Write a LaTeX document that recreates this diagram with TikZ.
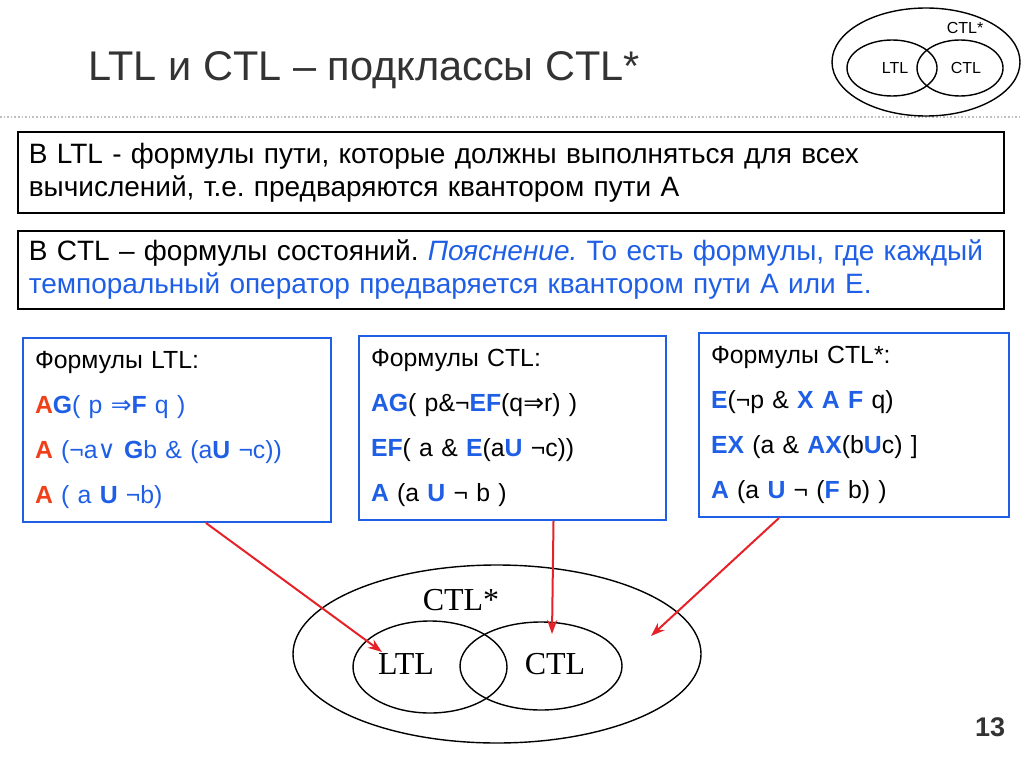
\documentclass[tikz,border=0pt]{standalone}
\usepackage{fontspec}
\setmainfont{Liberation Sans}
\newfontfamily\seriffam{Liberation Serif}
\newfontfamily\symfam{DejaVu Sans}
\usetikzlibrary{arrows.meta, positioning}
\definecolor{slblue}{HTML}{1F5FE6}
\definecolor{slred}{HTML}{F0401A}
\definecolor{arrred}{HTML}{E62228}
\newcommand{\impl}{{\symfam ⇒}}
\newcommand{\orr}{{\symfam ∨}}
\newcommand{\op}[1]{\textbf{\textcolor{slblue}{#1}}}
\newcommand{\qa}[1]{\textbf{\textcolor{slred}{#1}}}
\frenchspacing

\begin{document}
\begin{tikzpicture}[x=1pt, y=-1pt,
    txtbox/.style={draw, line width=1.6pt, anchor=north west, align=left,
                   text width=964pt, inner xsep=11pt, minimum height=#1,
                   font=\fontsize{28}{33}\selectfont},
    formbox/.style={draw=slblue, line width=2pt, anchor=north west, align=left,
                    text width=#1, inner xsep=12pt, minimum height=184pt,
                    font=\fontsize{24.8}{45}\selectfont},
    venn/.style={line width=1.4pt},
    conn/.style={-{Stealth[length=14pt, width=10pt]}, line width=2pt, arrred},
]
    \useasboundingbox (0,0) rectangle (1024,767);

    % Title
    \node[anchor=west, font=\fontsize{41.5}{44}\selectfont, text=black!80] (title) at (85,70)
        {LTL и CTL – подклассы CTL*};
    \draw[gray!50, dotted, line width=1.6pt] (0,117) -- (1022,117);

    % Small Venn diagram
    \draw[venn] (926,62) ellipse [x radius=94, y radius=54];
    \draw[venn] (892,68) ellipse [x radius=45, y radius=28];
    \draw[venn] (960,68) ellipse [x radius=43, y radius=28];
    \node[font=\fontsize{16}{16}\selectfont] (sstar) at (965,28) {CTL*};
    \node[font=\fontsize{16}{16}\selectfont] (sltl) at (895,68) {LTL};
    \node[font=\fontsize{16}{16}\selectfont] (sctl) at (966,68) {CTL};

    % Text boxes
    \node[txtbox=81pt] (ltlbox) at (17,131)
        {В LTL - формулы пути, которые должны выполняться для всех\\
         вычислений, т.е. предваряются квантором пути А};
    \node[txtbox=78pt] (ctlbox) at (17,230)
        {В CTL – формулы состояний. \textcolor{slblue}{\itshape Пояснение.}
         \textcolor{slblue}{То есть формулы, где каждый}\\
         \textcolor{slblue}{темпоральный оператор предваряется квантором пути А или Е.}};

    % Formula boxes
    \node[formbox=284pt] (ltlf) at (22,337)
        {Формулы LTL:\\
         \color{slblue}\qa{A}\op{G}( p \impl\op{F} q )\\
         \qa{A} (¬a\orr\ \op{G}b \& (a\op{U} ¬c))\\
         \qa{A} ( a \op{U} ¬b)};
    \node[formbox=283pt] (ctlf) at (358,335)
        {Формулы CTL:\\
         \op{AG}( p\&¬\op{EF}(q\impl r) )\\
         \op{EF}( a \& \op{E}(a\op{U} ¬c))\\
         \op{A} (a \op{U} ¬ b )};
    \node[formbox=286pt] (starf) at (698,332)
        {Формулы CTL*:\\
         \op{E}(¬p \& \op{X A F} q)\\
         \op{EX} (a \& \op{AX}(b\op{U}c) ]\\
         \op{A} (a \op{U} ¬ (\op{F} b) )};

    % Big Venn diagram
    \draw[venn] (497,654) ellipse [x radius=204, y radius=89];
    \draw[venn] (430,667) ellipse [x radius=77, y radius=46];
    \draw[venn] (541,666) ellipse [x radius=81, y radius=44];
    \node[font=\seriffam\fontsize{32}{32}\selectfont] (bstar) at (461,600) {CTL*};
    \node[font=\seriffam\fontsize{32}{32}\selectfont] (bltl) at (406,664) {LTL};
    \node[font=\seriffam\fontsize{32}{32}\selectfont] (bctl) at (555,664) {CTL};
    \coordinate (ltlend) at (382,652);
    \coordinate (ctlend) at (552,634);
    \coordinate (starend) at (651,636);

    % Arrows
    \draw[conn] ([xshift=29pt]ltlf.south) -- (ltlend);
    \draw[conn] ([xshift=41pt]ctlf.south) -- (ctlend);
    \draw[conn] ([xshift=-75pt]starf.south) -- (starend);

    % Page number
    \node[font=\bfseries\fontsize{27}{27}\selectfont, text=black!80] (pnum) at (990,727) {13};
\end{tikzpicture}
\end{document}
